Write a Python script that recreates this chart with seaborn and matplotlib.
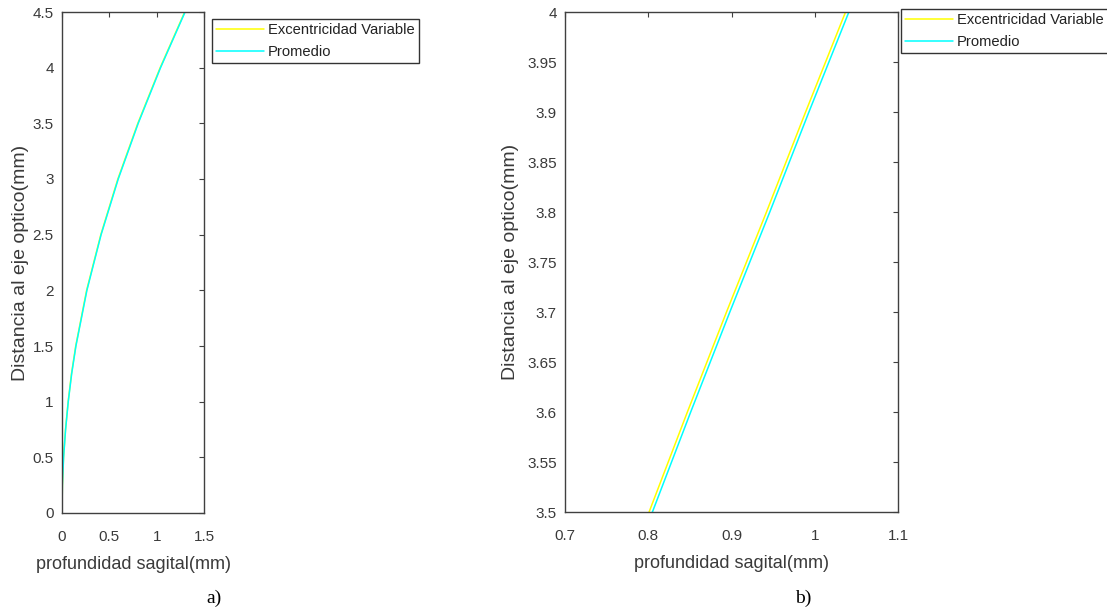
import numpy as np
import pandas as pd
import seaborn as sns
import matplotlib
matplotlib.use("Agg")
import matplotlib.pyplot as plt
from matplotlib.ticker import FormatStrFormatter

# Sagittal depth (mm), against distance to the optical axis (mm)
dist_a = [0, 0.25, 0.5, 0.75, 1.0, 1.25, 1.5, 2.0, 2.5, 3.0, 3.5, 4.0, 4.5]
depth_var_a = [0, 0.004, 0.016, 0.037, 0.065, 0.100, 0.145, 0.260, 0.410, 0.590, 0.801, 1.037, 1.296]
depth_avg_a = [0, 0.004, 0.017, 0.038, 0.066, 0.102, 0.147, 0.263, 0.413, 0.594, 0.805, 1.041, 1.300]

# zoomed view b)
dist_b = [3.45, 3.5, 3.6, 3.7, 3.8, 3.9, 4.0, 4.05]
depth_var_b = [0.778, 0.801, 0.847, 0.894, 0.942, 0.989, 1.037, 1.061]
depth_avg_b = [0.782, 0.805, 0.851, 0.898, 0.946, 0.993, 1.041, 1.065]

series_names = ["Excentricidad Variable", "Promedio"]
series_colors = ["#ffff00", "#00ffff"]

xticks_a = [0, 0.5, 1, 1.5]
yticks_a = [0, 0.5, 1, 1.5, 2, 2.5, 3, 3.5, 4, 4.5]
xticks_b = [0.7, 0.8, 0.9, 1.0, 1.1]
yticks_b = [3.5, 3.55, 3.6, 3.65, 3.7, 3.75, 3.8, 3.85, 3.9, 3.95, 4.0]

sns.set_theme(style="white")
plt.rcParams["font.family"] = ["Liberation Sans", "DejaVu Sans"]

W, H = 1107, 611
fig = plt.figure(figsize=(W / 100, H / 100), dpi=100)
ax1 = fig.add_axes([62 / W, 1 - 513 / H, 142 / W, 501 / H])
ax2 = fig.add_axes([565 / W, 1 - 512 / H, 333 / W, 500 / H])


def long_df(dist, var, avg):
    return pd.DataFrame({
        "dist": list(dist) * 2,
        "depth": list(var) + list(avg),
        "serie": [series_names[0]] * len(dist) + [series_names[1]] * len(dist),
    })


df_a = long_df(dist_a, depth_var_a, depth_avg_a)
df_b = long_df(dist_b, depth_var_b, depth_avg_b)
palette = dict(zip(series_names, series_colors))

panels = [
    (ax1, df_a, xticks_a, yticks_a, (0, 1.5), (0, 4.5), 212, 19, -0.235),
    (ax2, df_b, xticks_b, yticks_b, (0.7, 1.1), (3.5, 4.0), 901, 9, -0.137),
]

for ax, df, xt, yt, xl, yl, lx, ly, ylab_x in panels:
    sns.lineplot(data=df, x="depth", y="dist", hue="serie", palette=palette,
                 sort=False, estimator=None, linewidth=1.1, legend=False, ax=ax)
    ax.set_xlim(*xl)
    ax.set_ylim(*yl)
    ax.set_xticks(xt)
    ax.set_yticks(yt)
    ax.xaxis.set_major_formatter(FormatStrFormatter("%g"))
    ax.yaxis.set_major_formatter(FormatStrFormatter("%g"))
    ax.tick_params(direction="in", top=True, right=True, length=3.6, width=0.8,
                   color="#404040", labelcolor="#3a3a3a", labelsize=11)
    ax.tick_params(axis="x", pad=12)
    ax.tick_params(axis="y", pad=6)
    for sp in ax.spines.values():
        sp.set_color("#404040")
        sp.set_linewidth(1.0)
        sp.set_visible(True)

    ax.set_xlabel("profundidad sagital(mm)", fontsize=13, color="#3a3a3a")
    ax.set_ylabel("Distancia al eje optico(mm)", fontsize=14, color="#3a3a3a")
    ax.xaxis.set_label_coords(0.5, -0.086)
    ax.yaxis.set_label_coords(ylab_x, 0.5)

    handles = ax.get_lines()[:2]
    leg = ax.legend(handles, series_names, loc="upper left",
                    bbox_to_anchor=(lx / W, 1 - ly / H), bbox_transform=fig.transFigure,
                    borderaxespad=0, frameon=True, fancybox=False, framealpha=1,
                    edgecolor="#333333", fontsize=10.6, handlelength=3.2,
                    handletextpad=0.3, labelspacing=0.5, borderpad=0.3)
    leg.get_frame().set_linewidth(1.0)
    for t in leg.get_texts():
        t.set_color("#222222")

fig.text(214 / W, 1 - 598 / H, "a)", ha="center", va="center",
         family="Liberation Serif", fontsize=14, color="black")
fig.text(803 / W, 1 - 598 / H, "b)", ha="center", va="center",
         family="Liberation Serif", fontsize=14, color="black")

fig.savefig("out.png", dpi=100)
